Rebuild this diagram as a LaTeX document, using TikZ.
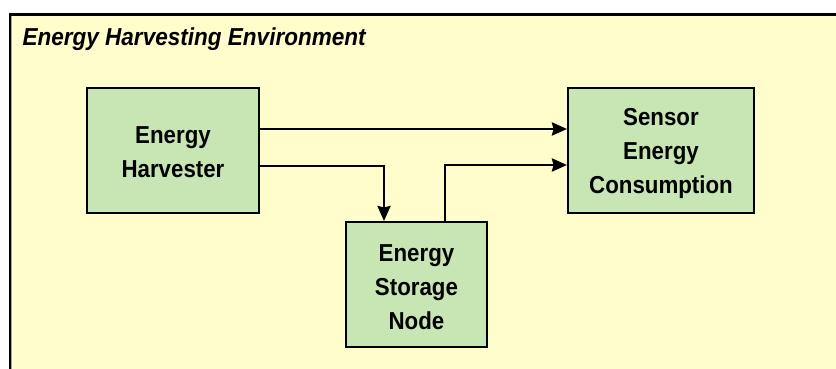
\documentclass[tikz,border=0pt]{standalone}
\usepackage{fontspec}
\setmainfont{Liberation Sans}
\newfontfamily\boxfont{Liberation Sans}[FakeStretch=0.91]
\newfontfamily\titlefont{Liberation Sans}[FakeStretch=0.92]
\usetikzlibrary{arrows.meta}
\definecolor{envbg}{RGB}{255,253,204}
\definecolor{boxfill}{RGB}{200,230,180}
\tikzset{
  blk/.style={draw=black, line width=2pt, fill=boxfill, inner sep=0pt},
  blktext/.style={align=center, inner sep=0pt,
    font=\boxfont\bfseries\fontsize{24.5}{34}\selectfont},
  arr/.style={line width=2.8pt, -{Stealth[length=15pt,width=13pt,inset=1.5pt]}},
}
\begin{document}
\begin{tikzpicture}[x=1pt,y=-1pt]
\useasboundingbox (0,0) rectangle (836,369);
\clip (0,0) rectangle (836,369);
\fill[white] (0,0) rectangle (836,369);
\draw[gray!70, line width=1pt, fill=envbg] (11.5,16) rectangle (900,500);
\draw[black, line width=2.5pt] (10,500) -- (10,14.5) -- (900,14.5);
\node[anchor=base west, font=\titlefont\bfseries\itshape\fontsize{24.5}{28}\selectfont] (title) at (19,46) {Energy Harvesting Environment};
\node[blk, minimum width=172pt, minimum height=125pt] (harv) at (173,150.5) {};
\node[blk, minimum width=186pt, minimum height=125pt] (sens) at (661,150.5) {};
\node[blk, minimum width=141pt, minimum height=125pt] (stor) at (416.5,284.5) {};
\node[blktext] (harvt) at ([yshift=-2pt]harv.center) {Energy\\Harvester};
\node[blktext] (senst) at ([yshift=-2.5pt]sens.center) {Sensor\\Energy\\Consumption};
\node[blktext] (stort) at ([yshift=-3pt]stor.center) {Energy\\Storage\\Node};
\draw[arr] (harv.east |- 0,129) -- (sens.west |- 0,129);
\draw[arr] (harv.east |- 0,166) -| (stor.north -| 384,0);
\draw[arr] (stor.north -| 445,0) |- (sens.west |- 0,165);
\end{tikzpicture}
\end{document}
